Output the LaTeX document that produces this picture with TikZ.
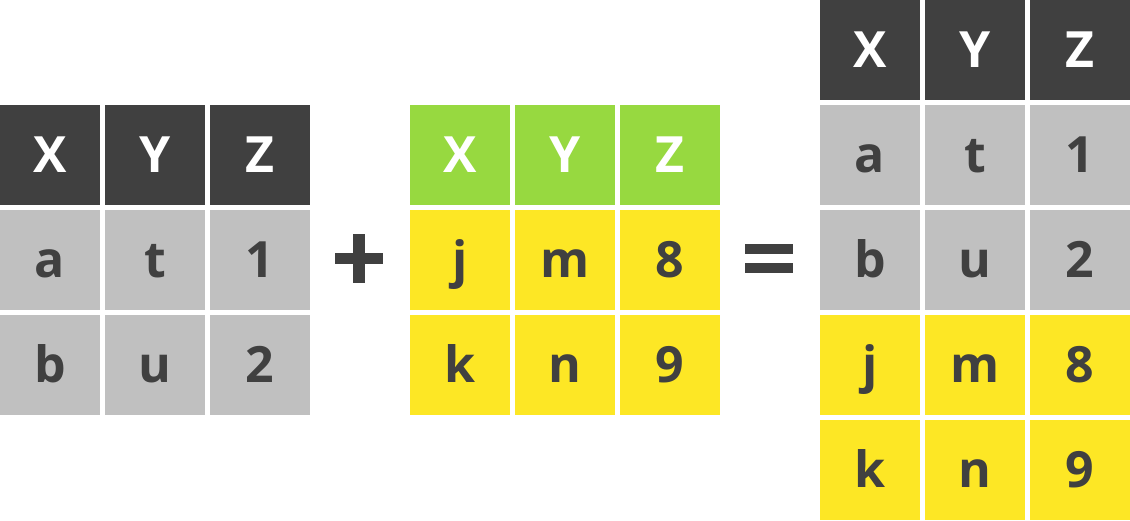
\documentclass[tikz,border=0pt]{standalone}
\usepackage{fontspec}
\setmainfont{Open Sans}[BoldFont={* Bold}]
\usepackage{tikz}
\definecolor{headdark}{HTML}{404040}
\definecolor{cellgray}{HTML}{C0C0C0}
\definecolor{headgreen}{HTML}{97D940}
\definecolor{cellyellow}{HTML}{FDE725}
\tikzset{
    cell/.style={minimum width=100pt, minimum height=100pt, inner sep=0pt,
        text height=34pt, text depth=0pt,
        font=\fontsize{50}{60}\selectfont\bfseries},
    head/.style={cell, fill=headdark, text=white},
    headnew/.style={cell, fill=headgreen, text=white},
    old/.style={cell, fill=cellgray, text=headdark},
    new/.style={cell, fill=cellyellow, text=headdark},
    sign/.style={fill=headdark, draw=none}
}

\begin{document}
\begin{tikzpicture}[x=1pt, y=-1pt]
\useasboundingbox (0,0) rectangle (1130,520);
% first table
\node[head] (lx) at (50,155) {X}; \node[head] (ly) at (155,155) {Y}; \node[head] (lz) at (260,155) {Z};
\node[old] (la1) at (50,260) {a}; \node[old] (lt1) at (155,260) {t}; \node[old] (l11) at (260,260) {1};
\node[old] (lb2) at (50,365) {b}; \node[old] (lu2) at (155,365) {u}; \node[old] (l22) at (260,365) {2};
% plus
\fill[style={sign}] (335,253) rectangle (383,264);
\fill[style={sign}] (353,234) rectangle (365,283);
% second table
\node[headnew] (mx) at (460,155) {X}; \node[headnew] (my) at (565,155) {Y}; \node[headnew] (mz) at (670,155) {Z};
\node[new] (mj1) at (460,260) {j}; \node[new] (mm1) at (565,260) {m}; \node[new] (m81) at (670,260) {8};
\node[new] (mk2) at (460,365) {k}; \node[new] (mn2) at (565,365) {n}; \node[new] (m92) at (670,365) {9};
% equals
\fill[style={sign}] (745,244) rectangle (793,254);
\fill[style={sign}] (745,263) rectangle (793,273);
% result
\node[head] (rx) at (870,50) {X}; \node[head] (ry) at (975,50) {Y}; \node[head] (rz) at (1080,50) {Z};
\node[old] (ra1) at (870,155) {a}; \node[old] (rt1) at (975,155) {t}; \node[old] (r11) at (1080,155) {1};
\node[old] (rb2) at (870,260) {b}; \node[old] (ru2) at (975,260) {u}; \node[old] (r22) at (1080,260) {2};
\node[new] (rj3) at (870,365) {j}; \node[new] (rm3) at (975,365) {m}; \node[new] (r83) at (1080,365) {8};
\node[new] (rk4) at (870,470) {k}; \node[new] (rn4) at (975,470) {n}; \node[new] (r94) at (1080,470) {9};
\end{tikzpicture}
\end{document}
